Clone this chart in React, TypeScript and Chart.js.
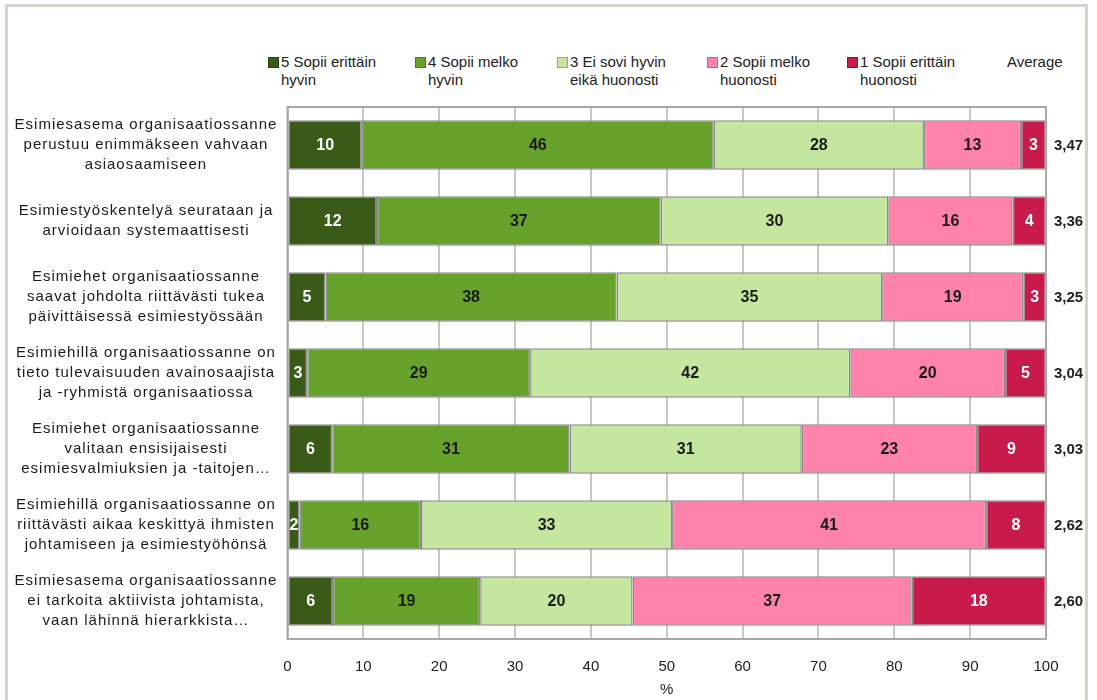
import React, { useEffect, useRef } from "react";
import { Chart, registerables } from "chart.js";

Chart.register(...registerables);

const categories: string[][] = [
  ["Esimiesasema organisaatiossanne", "perustuu enimmäkseen vahvaan", "asiaosaamiseen"],
  ["Esimiestyöskentelyä seurataan ja", "arvioidaan systemaattisesti"],
  ["Esimiehet organisaatiossanne", "saavat johdolta riittävästi tukea", "päivittäisessä esimiestyössään"],
  ["Esimiehillä organisaatiossanne on", "tieto tulevaisuuden avainosaajista", "ja -ryhmistä organisaatiossa"],
  ["Esimiehet organisaatiossanne", "valitaan ensisijaisesti", "esimiesvalmiuksien ja -taitojen…"],
  ["Esimiehillä organisaatiossanne on", "riittävästi aikaa keskittyä ihmisten", "johtamiseen ja esimiestyöhönsä"],
  ["Esimiesasema organisaatiossanne", "ei tarkoita aktiivista johtamista,", "vaan lähinnä hierarkkista…"],
];

const seriesNames: string[][] = [
  ["5 Sopii erittäin", "hyvin"],
  ["4 Sopii melko", "hyvin"],
  ["3 Ei sovi hyvin", "eikä huonosti"],
  ["2 Sopii melko", "huonosti"],
  ["1 Sopii erittäin", "huonosti"],
];

const s5 = [9.8, 11.8, 5.0, 2.6, 5.9, 1.6, 6.0];
const s4 = [46.4, 37.4, 38.4, 29.4, 31.3, 16.0, 19.4];
const s3 = [27.7, 30.0, 35.0, 42.2, 30.6, 33.1, 20.1];
const s2 = [12.8, 16.4, 18.6, 20.4, 23.1, 41.4, 36.8];
const s1 = [3.3, 4.4, 3.0, 5.4, 9.1, 7.9, 17.7];

const averages = [3.47, 3.36, 3.25, 3.04, 3.03, 2.62, 2.6];
const averageHeader = "Average";
const xTitle = "%";

const colors = ["#3a5a17", "#67a22b", "#c4e69e", "#ff82aa", "#c81a4b"];
const labelColors = ["#ffffff", "#1a1a1a", "#1a1a1a", "#1a1a1a", "#ffffff"];
const legendX = [268, 415, 557, 707, 847];

const FONT = '"Liberation Sans", Arial, sans-serif';

const overlayPlugin = {
  id: "overlay",
  afterDatasetsDraw(chart: any) {
    const ctx: CanvasRenderingContext2D = chart.ctx;
    const a = chart.chartArea;
    const ys = chart.scales.y;
    ctx.save();
    // plot border
    ctx.strokeStyle = "#a8a8a8";
    ctx.lineWidth = 2;
    ctx.strokeRect(a.left, a.top, a.right - a.left, a.bottom - a.top);
    // value labels
    ctx.textAlign = "center";
    ctx.textBaseline = "middle";
    ctx.font = `bold 16px ${FONT}`;
    chart.data.datasets.forEach((ds: any, di: number) => {
      const meta = chart.getDatasetMeta(di);
      meta.data.forEach((el: any, i: number) => {
        const v = ds.data[i];
        const p = el.getProps(["x", "base", "y"], true);
        ctx.fillStyle = labelColors[di];
        ctx.fillText(String(Math.round(v)), (p.x + p.base) / 2, p.y + 1);
      });
    });
    // averages
    ctx.textAlign = "left";
    ctx.fillStyle = "#222222";
    ctx.font = `bold 15px ${FONT}`;
    averages.forEach((v, i) => {
      ctx.fillText(v.toFixed(2).replace(".", ","), a.right + 8, ys.getPixelForValue(i) + 1);
    });
    // category labels
    ctx.textAlign = "center";
    ctx.fillStyle = "#1a1a1a";
    ctx.font = `15px ${FONT}`;
    (ctx as any).letterSpacing = "1px";
    const cx = 146;
    const lh = 20;
    (chart.data.labels as string[][]).forEach((lines, i) => {
      const yc = ys.getPixelForValue(i);
      const y0 = yc - ((lines.length - 1) * lh) / 2;
      lines.forEach((t, k) => ctx.fillText(t, cx, y0 + k * lh));
    });
    (ctx as any).letterSpacing = "0px";
    ctx.restore();
  },
};

export default function App() {
  const ref = useRef<HTMLCanvasElement | null>(null);

  useEffect(() => {
    if (!ref.current) return;
    const series = [s5, s4, s3, s2, s1];
    const chart = new Chart(ref.current, {
      type: "bar",
      data: {
        labels: categories as any,
        datasets: series.map((d, i) => ({
          label: seriesNames[i].join(" "),
          data: d,
          backgroundColor: colors[i],
          borderColor: "#8a8a8a",
          borderWidth: 1.5,
          borderSkipped: false,
          barPercentage: 0.65,
          categoryPercentage: 1,
        })),
      },
      options: {
        indexAxis: "y",
        responsive: false,
        animation: false,
        layout: { padding: { left: 0, right: 51, top: 107, bottom: 0 } },
        plugins: {
          legend: { display: false },
          tooltip: { enabled: false },
        },
        scales: {
          x: {
            stacked: true,
            min: 0,
            max: 100,
            ticks: {
              stepSize: 10,
              padding: 19,
              color: "#222222",
              font: { family: FONT, size: 15 },
            },
            grid: { color: "#c8c8c8", lineWidth: 2, drawTicks: false },
            border: { display: false },
            title: {
              display: true,
              text: xTitle,
              color: "#222222",
              font: { family: FONT, size: 15 },
              padding: { top: 0, bottom: 1 },
            },
            afterFit: (s: any) => {
              s.height = 61;
            },
          },
          y: {
            stacked: true,
            ticks: { display: false },
            grid: { display: false },
            border: { display: false },
            afterFit: (s: any) => {
              s.width = 287.5;
            },
          },
        },
      },
      plugins: [overlayPlugin],
    } as any);
    return () => chart.destroy();
  }, []);

  return (
    <div style={{ position: "absolute", left: 0, top: 0, width: 1097, height: 700, overflow: "hidden", background: "#ffffff" }}>
      <div
        style={{
          position: "absolute",
          left: 5,
          top: 4,
          width: 1083,
          height: 720,
          border: "3px solid #d8d2c8",
          boxSizing: "border-box",
        }}
      />
      {seriesNames.map((lines, i) => (
        <div key={i} style={{ position: "absolute", left: legendX[i], top: 53, fontFamily: FONT, fontSize: 15, lineHeight: "18px", color: "#222" }}>
          <div
            style={{
              position: "absolute",
              left: 0,
              top: 4,
              width: 9,
              height: 9,
              background: colors[i],
              border: "1px solid rgba(0,0,0,0.25)",
            }}
          />
          <div style={{ marginLeft: 13, whiteSpace: "nowrap" }}>
            {lines.map((t, k) => (
              <div key={k}>{t}</div>
            ))}
          </div>
        </div>
      ))}
      <div style={{ position: "absolute", left: 1007, top: 53, fontFamily: FONT, fontSize: 15, lineHeight: "18px", color: "#222" }}>
        {averageHeader}
      </div>
      <canvas ref={ref} width={1097} height={700} style={{ position: "absolute", left: 0, top: 0, width: 1097, height: 700 }} />
    </div>
  );
}
